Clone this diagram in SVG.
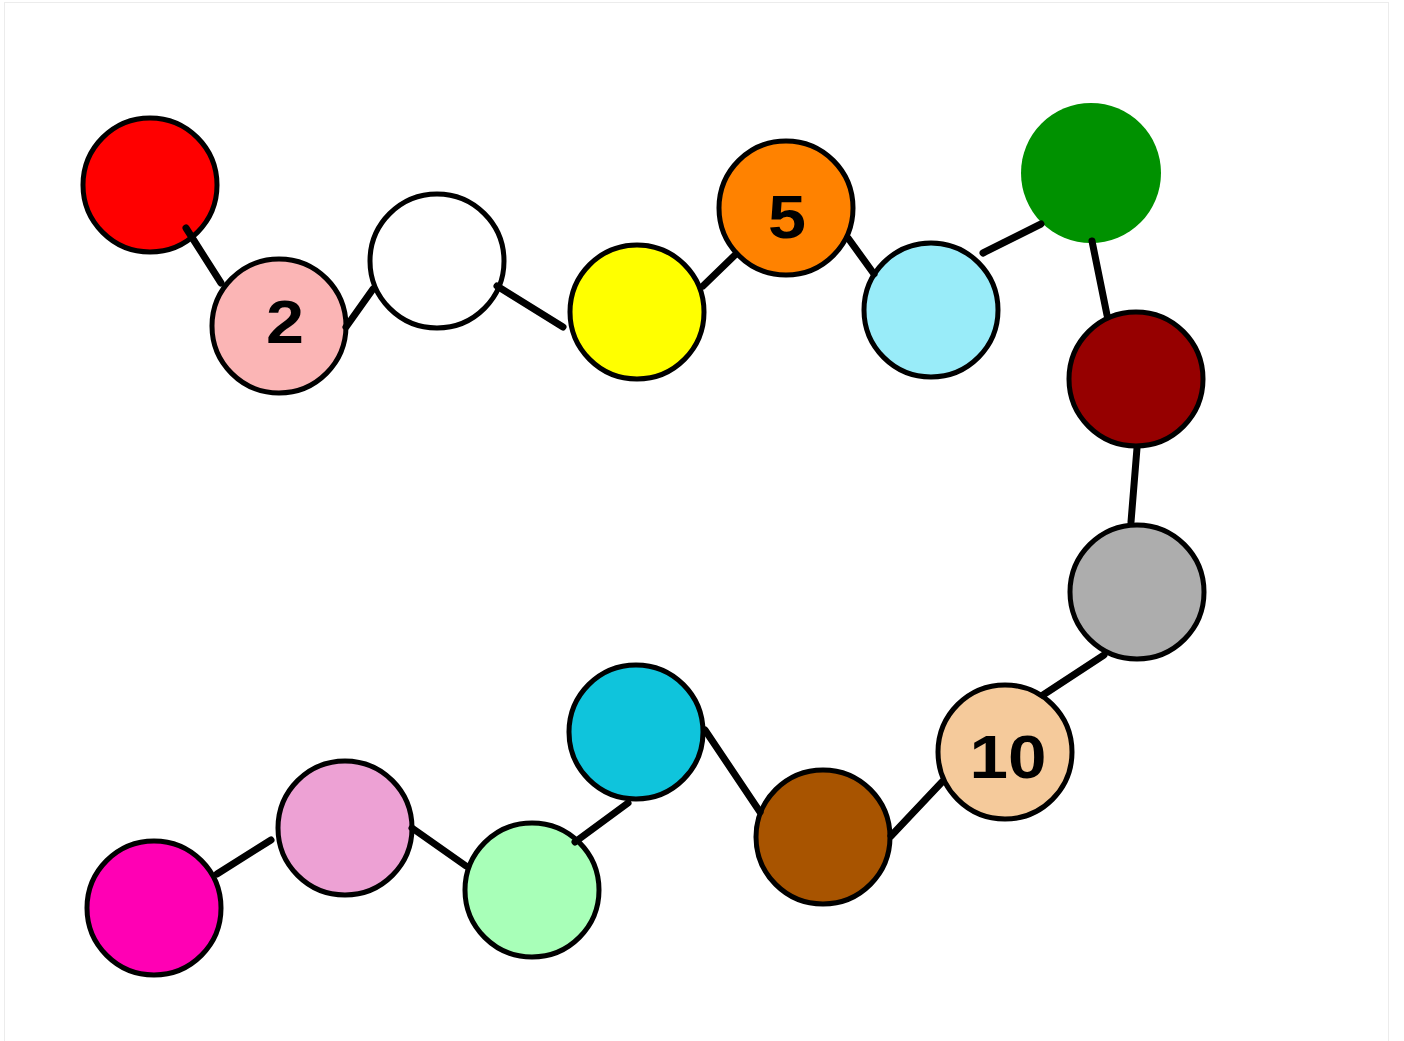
<svg xmlns="http://www.w3.org/2000/svg" width="1404" height="1041" viewBox="0 0 1404 1041">
<style>
.n{stroke:#000;stroke-width:5}
.e line{stroke:#000;stroke-width:7;stroke-linecap:round}
.t{font-family:"Liberation Sans",Arial,sans-serif;font-weight:bold;font-size:62px;text-anchor:middle;fill:#000}
</style>
<rect x="0" y="0" width="1404" height="1041" fill="#fff"/>
<rect x="4.5" y="2.5" width="1384" height="1045" fill="none" stroke="#ececec" stroke-width="1"/>
<g id="n1"><circle class="n" cx="150" cy="185" r="67" fill="#ff0000"/></g>
<g id="n2"><circle class="n" cx="279" cy="326" r="67" fill="#fbb5b5"/><text class="t" x="285" y="343" textLength="38" lengthAdjust="spacingAndGlyphs">2</text></g>
<g id="n3"><circle class="n" cx="437" cy="261" r="67" fill="#ffffff"/></g>
<g id="n4"><circle class="n" cx="637" cy="312" r="67" fill="#ffff00"/></g>
<g id="n5"><circle class="n" cx="786" cy="208" r="67" fill="#ff8200"/><text class="t" x="787" y="238" textLength="38" lengthAdjust="spacingAndGlyphs">5</text></g>
<g id="n6"><circle class="n" cx="931" cy="310" r="67" fill="#99ecf9"/></g>
<g id="n7"><circle cx="1091" cy="173" r="70" fill="#009100"/></g>
<g id="n8"><circle class="n" cx="1136" cy="379" r="67" fill="#960000"/></g>
<g id="n9"><circle class="n" cx="1137" cy="592" r="67" fill="#adadad"/></g>
<g id="n10"><circle class="n" cx="1005" cy="752" r="67" fill="#f5ca9b"/><text class="t" x="1008" y="778" textLength="77" lengthAdjust="spacingAndGlyphs">10</text></g>
<g id="n11"><circle class="n" cx="823" cy="837" r="67" fill="#a85400"/></g>
<g id="n12"><circle class="n" cx="636" cy="732" r="67" fill="#0fc4dc"/></g>
<g id="n13"><circle class="n" cx="532" cy="890" r="67" fill="#a8ffb8"/></g>
<g id="n14"><circle class="n" cx="345" cy="828" r="67" fill="#eda1d4"/></g>
<g id="n15"><circle class="n" cx="154" cy="908" r="67" fill="#ff00b4"/></g>
<g id="edges" class="e">
<line x1="186" y1="228" x2="221" y2="283"/>
<line x1="346" y1="327" x2="373" y2="289"/>
<line x1="497" y1="286" x2="563" y2="327"/>
<line x1="703" y1="286" x2="735" y2="255"/>
<line x1="848" y1="238" x2="874" y2="274"/>
<line x1="983" y1="253" x2="1041" y2="224"/>
<line x1="1092" y1="241" x2="1107" y2="315"/>
<line x1="1137" y1="448" x2="1131" y2="522"/>
<line x1="1104" y1="655" x2="1043" y2="695"/>
<line x1="942" y1="782" x2="891" y2="836"/>
<line x1="760" y1="812" x2="705" y2="730"/>
<line x1="628" y1="803" x2="575" y2="842"/>
<line x1="412" y1="828" x2="466" y2="866"/>
<line x1="271" y1="840" x2="217" y2="874"/>
</g>
</svg>
